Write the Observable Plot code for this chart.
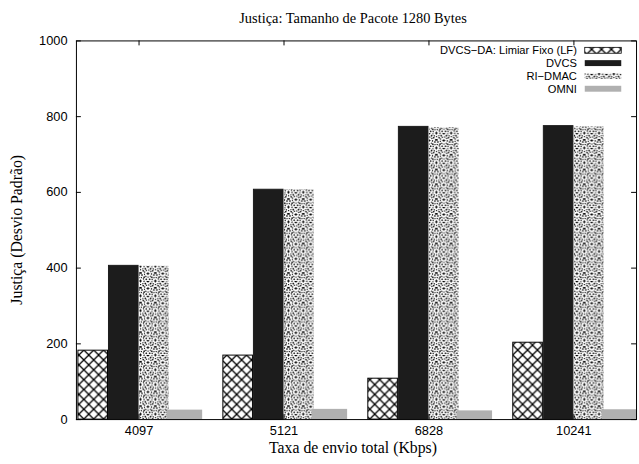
<!DOCTYPE html>
<html><head><meta charset="utf-8">
<script src="https://cdn.jsdelivr.net/npm/d3@7"></script>
<script src="https://cdn.jsdelivr.net/npm/@observablehq/plot@0.6"></script>
<style>html,body{margin:0;padding:0;overflow:hidden;background:#fff}</style>
</head><body><div id="chart"></div>
<script>
// ---- data ----
const groups = ["4097", "5121", "6828", "10241"];
const seriesNames = ["DVCS\u2212DA: Limiar Fixo (LF)", "DVCS", "RI\u2212DMAC", "OMNI"];
const lf = [182, 169, 108, 203];
const dvcs = [406, 607, 773, 775];
const ridmac = [405, 607, 771, 773];
const omni = [25, 27, 23, 26];
const yTicks = [0, 200, 400, 600, 800, 1000];
const title = "Justiça: Tamanho de Pacote 1280 Bytes";
const xLabel = "Taxa de envio total (Kbps)";
const yLabel = "Justiça (Desvio Padrão)";

// ---- layout / style ----
const W = 648, H = 464, ML = 77, MR = 3, MT = 41, MB = 39;
const innerW = W - ML - MR, innerH = H - MT - MB;
const slot = 31;
const seriesValues = [lf, dvcs, ridmac, omni];
const fills = ["url(#xhatch)", "#1c1c1c", "url(#ridots)", "#b0b0b0"];
const strokes = ["black", "#1c1c1c", "none", "none"];
const sans = "'Liberation Sans', Arial, Helvetica, sans-serif";

const barMarks = seriesValues.map((vals, j) =>
  Plot.barY(groups.map((g, i) => ({g, v: vals[i]})), {
    x: "g", y: "v",
    fill: fills[j], stroke: strokes[j], strokeWidth: 1,
    insetLeft: j === 3 ? j * slot - 3 : j * slot,
    insetRight: j === 3 ? -3 : (3 - j) * slot
  })
);

const plot = Plot.plot({
  width: W, height: H,
  marginLeft: ML, marginRight: MR, marginTop: MT, marginBottom: MB,
  style: {fontFamily: sans, fontSize: "13px", background: "white", color: "black", overflow: "hidden"},
  x: {type: "band", domain: groups, paddingInner: 0.162, paddingOuter: 0, align: 0.5},
  y: {domain: [0, 1000]},
  marks: [
    ...barMarks,
    Plot.ruleY(yTicks, {y: d => d, insetRight: innerW - 5, stroke: "black"}),
    Plot.ruleY(yTicks, {y: d => d, insetLeft: innerW - 5, stroke: "black"}),
    Plot.ruleX(groups, {x: d => d, insetTop: innerH - 5, stroke: "black"}),
    Plot.ruleX(groups, {x: d => d, insetBottom: innerH - 5, stroke: "black"}),
    Plot.axisX({tickSize: 0, tickPadding: 6, label: null, fontSize: 13}),
    Plot.axisY({ticks: yTicks, tickFormat: d => String(d), tickSize: 0, tickPadding: 9, label: null, fontSize: 13}),
    Plot.frame({stroke: "black"})
  ]
});

const svg = d3.select(plot);
const defs = svg.insert("defs", ":first-child");
const p1 = defs.append("pattern").attr("id", "xhatch").attr("patternUnits", "userSpaceOnUse").attr("width", 10).attr("height", 10);
p1.append("rect").attr("width", 10).attr("height", 10).attr("fill", "white");
p1.append("path").attr("d", "M0,0L10,10M10,0L0,10").attr("stroke", "black").attr("stroke-width", 1.3).attr("fill", "none");

const T = 15;
const p2 = defs.append("pattern").attr("id", "ridots").attr("patternUnits", "userSpaceOnUse").attr("width", T).attr("height", T);
p2.append("rect").attr("width", T).attr("height", T).attr("fill", "white");
p2.append("path").attr("d", `M0,0L${T},${T}M${T},0L0,${T}`).attr("stroke", "black").attr("stroke-width", 1.5).attr("stroke-dasharray", "1.5,1.5").attr("fill", "none");
for (const [cx, cy] of [[T/2, 0], [T/2, T], [0, T/2], [T, T/2]]) {
  p2.append("circle").attr("cx", cx).attr("cy", cy).attr("r", 3.6).attr("fill", "none").attr("stroke", "black").attr("stroke-width", 1.1).attr("stroke-dasharray", "1.2,1.2");
  p2.append("path").attr("d", `M${cx-1.5},${cy}h3M${cx},${cy-1.5}v3`).attr("stroke", "black").attr("stroke-width", 0.9);
}

// title and axis labels
const serif = "'Liberation Serif', 'Times New Roman', serif";
svg.append("text").attr("x", 358).attr("y", 23).attr("text-anchor", "middle").attr("font-family", serif).attr("font-size", 14.6).attr("fill", "black").text(title);
svg.append("text").attr("x", 358).attr("y", 459).attr("text-anchor", "middle").attr("font-family", serif).attr("font-size", 16).attr("fill", "black").text(xLabel);
svg.append("text").attr("transform", "translate(22,233) rotate(-90)").attr("text-anchor", "middle").attr("font-family", serif).attr("font-size", 16).attr("fill", "black").text(yLabel);

// legend
const leg = svg.append("g").attr("font-family", sans).attr("font-size", 11.3);
seriesNames.forEach((name, j) => {
  const cy = 51 + j * 13;
  leg.append("text").attr("x", 585).attr("y", cy).attr("dy", "0.35em").attr("text-anchor", "end").attr("fill", "black").text(name);
  leg.append("rect").attr("x", 593).attr("y", cy - 3).attr("width", 37).attr("height", 6)
    .attr("fill", fills[j]).attr("stroke", j === 0 ? "black" : "none").attr("stroke-width", 0.8);
});

document.getElementById("chart").appendChild(plot);
</script>
</body></html>
